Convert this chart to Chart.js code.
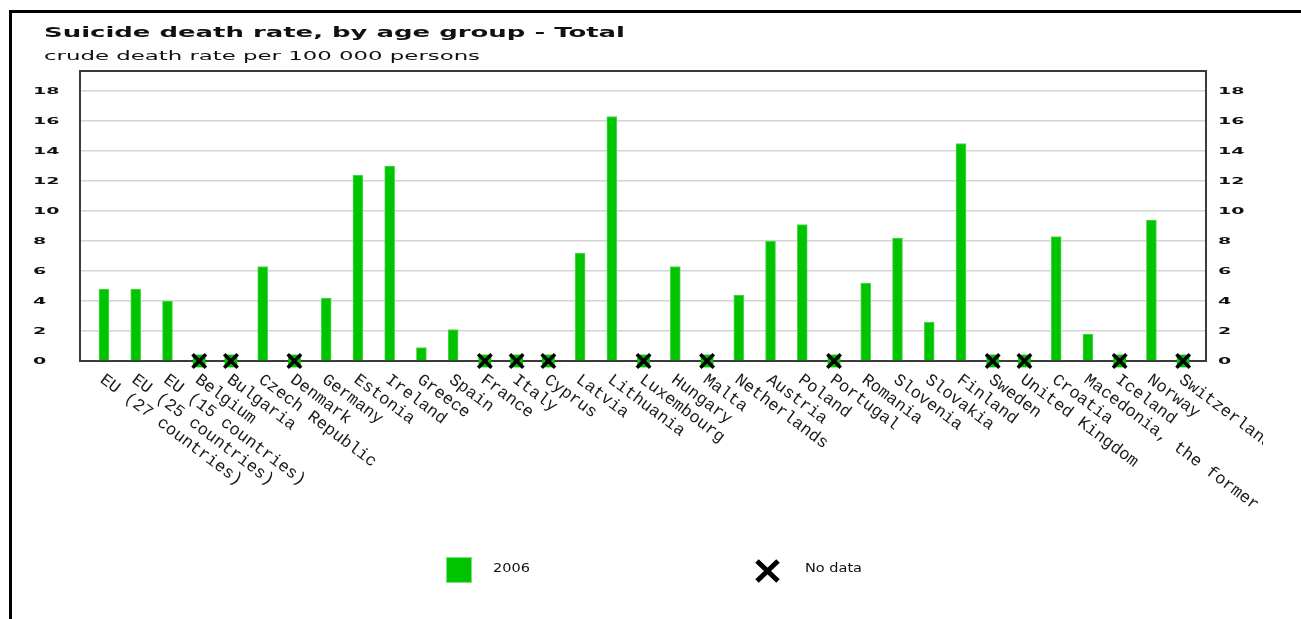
<!DOCTYPE html>
<html>
<head>
<meta charset="utf-8">
<script src="https://cdn.jsdelivr.net/npm/chart.js@4.4.1/dist/chart.umd.min.js"></script>
<style>
  html, body { margin: 0; background: #fff; overflow: hidden; }
  #wrap { position: relative; width: 1301px; height: 619px; }
</style>
</head>
<body>
<div id="wrap"><canvas id="chart" width="1301" height="619"></canvas></div>
<script>
// ── data ──
const titleText = 'Suicide death rate, by age group - Total';
const subtitleText = 'crude death rate per 100 000 persons';
const countries = [
  'EU (27 countries)', 'EU (25 countries)', 'EU (15 countries)', 'Belgium', 'Bulgaria',
  'Czech Republic', 'Denmark', 'Germany', 'Estonia', 'Ireland', 'Greece', 'Spain',
  'France', 'Italy', 'Cyprus', 'Latvia', 'Lithuania', 'Luxembourg', 'Hungary', 'Malta',
  'Netherlands', 'Austria', 'Poland', 'Portugal', 'Romania', 'Slovenia', 'Slovakia',
  'Finland', 'Sweden', 'United Kingdom', 'Croatia',
  'Macedonia, the former Yugoslav Republic of', 'Iceland', 'Norway', 'Switzerland'
];
// null = no data (drawn as a cross on the axis)
const values2006 = [
  4.8, 4.8, 4.0, null, null,
  6.3, null, 4.2, 12.4, 13.0, 0.9, 2.1,
  null, null, null, 7.2, 16.3, null, 6.3, null,
  4.4, 8.0, 9.1, null, 5.2, 8.2, 2.6,
  14.5, null, null, 8.3,
  1.8, null, 9.4, null
];
const yTicks = [0, 2, 4, 6, 8, 10, 12, 14, 16, 18];
const legendLabels = ['2006', 'No data'];

const GREEN = '#00c400';

// draws text squeezed/stretched horizontally (the reference is a widened bitmap)
function wideText(ctx, text, x, y, font, sx, width) {
  ctx.save();
  ctx.font = font;
  if (width) sx = width / ctx.measureText(text).width;
  ctx.translate(x, y);
  ctx.scale(sx, 1);
  ctx.fillText(text, 0, 0);
  ctx.restore();
}

const framePlugin = {
  id: 'frame',
  beforeDraw(chart) {
    const ctx = chart.ctx;
    ctx.save();
    ctx.fillStyle = '#fff';
    ctx.fillRect(0, 0, chart.width, chart.height);
    ctx.fillStyle = '#000';
    ctx.fillRect(9, 10, 3, chart.height - 10);
    ctx.fillRect(9, 10, chart.width - 9, 3);
    ctx.restore();
  },
  beforeDatasetsDraw(chart) {
    const { ctx, chartArea: a } = chart;
    ctx.save();
    ctx.strokeStyle = '#3a3a3a';
    ctx.lineWidth = 2;
    ctx.strokeRect(a.left, a.top, a.right - a.left, a.bottom - a.top);
    ctx.restore();
  }
};

const textPlugin = {
  id: 'texts',
  afterDraw(chart) {
    const { ctx, chartArea: a } = chart;
    const xs = chart.scales.x, ys = chart.scales.y;
    ctx.save();
    ctx.fillStyle = '#111';
    ctx.textAlign = 'left';

    // title + subtitle
    ctx.textBaseline = 'alphabetic';
    wideText(ctx, titleText, 44, 37, 'bold 14px "DejaVu Sans"', 1, 581);
    wideText(ctx, subtitleText, 44, 60, '13px "DejaVu Sans"', 1, 436);

    // y tick labels, both sides
    ctx.textBaseline = 'middle';
    yTicks.forEach(v => {
      const py = ys.getPixelForValue(v);
      wideText(ctx, String(v), 33, py + 1, 'bold 9.5px "DejaVu Sans"', 2.0);
      wideText(ctx, String(v), a.right + 12, py + 1, 'bold 9.5px "DejaVu Sans"', 2.0);
    });

    // rotated category labels, clipped like the original
    ctx.save();
    ctx.beginPath();
    ctx.rect(0, a.bottom + 8, 1263, chart.height - a.bottom);
    ctx.clip();
    ctx.font = '17px "Liberation Mono", monospace';
    ctx.textBaseline = 'top';
    ctx.fillStyle = '#1a1a1a';
    countries.forEach((name, i) => {
      const px = xs.getPixelForValue(i);
      ctx.save();
      ctx.translate(px + 3, a.bottom + 10);
      ctx.rotate(37 * Math.PI / 180);
      ctx.fillText(name, 0, 0);
      ctx.restore();
    });
    ctx.restore();

    // legend
    ctx.fillStyle = GREEN;
    ctx.fillRect(446, 557, 26, 26);
    ctx.strokeStyle = '#7fe07f';
    ctx.lineWidth = 1;
    ctx.strokeRect(446.5, 557.5, 25, 25);
    ctx.strokeStyle = '#000';
    ctx.lineWidth = 5;
    ctx.beginPath();
    ctx.moveTo(757, 561); ctx.lineTo(778, 581);
    ctx.moveTo(778, 561); ctx.lineTo(757, 581);
    ctx.stroke();
    ctx.fillStyle = '#111';
    ctx.textBaseline = 'middle';
    wideText(ctx, legendLabels[0], 493, 569, '13px "DejaVu Sans"', 1, 37);
    wideText(ctx, legendLabels[1], 805, 569, '12px "DejaVu Sans"', 1, 57);
    ctx.restore();
  }
};

const barData = values2006.map((v, i) => ({ x: i, y: v }));
const noData = values2006
  .map((v, i) => (v === null ? { x: i, y: 0 } : null))
  .filter(p => p);

new Chart(document.getElementById('chart'), {
  type: 'bar',
  data: {
    datasets: [
      {
        label: legendLabels[0],
        data: barData,
        backgroundColor: GREEN,
        borderColor: '#55d655',
        borderWidth: { left: 1, right: 1, top: 1, bottom: 0 },
        borderSkipped: false,
        barThickness: 10,
        order: 3
      },
      {
        type: 'scatter',
        label: 'nodata-bg',
        data: noData,
        pointStyle: 'rect',
        pointRadius: 9,
        backgroundColor: GREEN,
        borderWidth: 0,
        clip: false,
        order: 2
      },
      {
        type: 'scatter',
        label: legendLabels[1],
        data: noData,
        pointStyle: 'crossRot',
        pointRadius: 9.5,
        borderColor: '#000',
        borderWidth: 3.5,
        clip: false,
        order: 1
      }
    ]
  },
  options: {
    responsive: false,
    animation: false,
    layout: { padding: { left: 80, right: 95, top: 71, bottom: 258 } },
    plugins: {
      legend: { display: false },
      tooltip: { enabled: false },
      title: { display: false }
    },
    scales: {
      x: {
        type: 'linear',
        offset: false,
        min: -0.756,
        max: 34.72,
        grid: { display: false },
        border: { display: false },
        ticks: { display: false },
        afterFit: s => { s.height = 0; }
      },
      y: {
        min: 0,
        max: 19.33,
        ticks: { display: false, stepSize: 2, includeBounds: false },
        grid: { color: '#d4d4d4', lineWidth: 1.5, drawTicks: false },
        border: { display: false },
        afterFit: s => { s.width = 0; }
      }
    }
  },
  plugins: [framePlugin, textPlugin]
});
</script>
</body>
</html>
